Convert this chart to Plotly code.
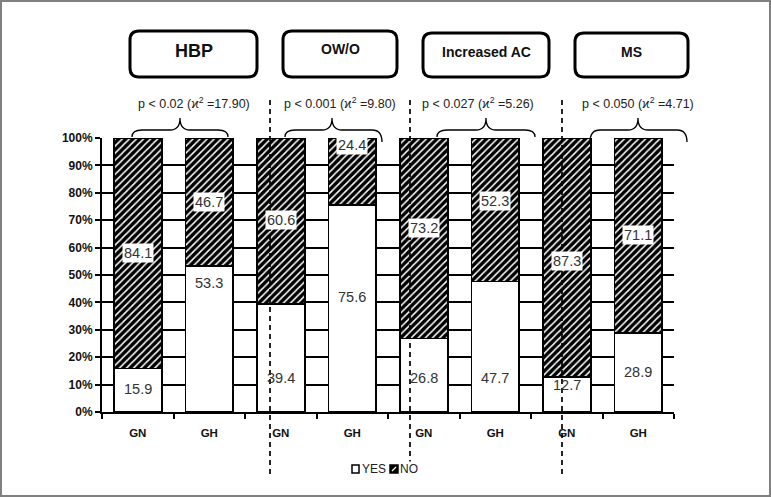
import plotly.graph_objects as go

# ---------------- data ----------------
groups = ["HBP", "OW/O", "Increased AC", "MS"]
bar_labels = ["GN", "GH", "GN", "GH", "GN", "GH", "GN", "GH"]
yes_values = [15.9, 53.3, 39.4, 75.6, 26.8, 47.7, 12.7, 28.9]
no_values = [84.1, 46.7, 60.6, 24.4, 73.2, 52.3, 87.3, 71.1]
p_texts = ["p < 0.02 (ϰ<sup>2</sup> =17.90)", "p < 0.001 (ϰ<sup>2</sup> =9.80)",
           "p < 0.027 (ϰ<sup>2</sup> =5.26)", "p < 0.050 (ϰ<sup>2</sup> =4.71)"]
y_ticks = [0, 10, 20, 30, 40, 50, 60, 70, 80, 90, 100]

# label positions (in % of axis) for value labels
yes_label_pos = [8.4, 47, 12.4, 42, 12.4, 12.4, 10, 14.6]
no_label_pos = [58, 76.6, 70, 97.5, 67, 77, 55, 64.6]

# ---------------- geometry ----------------
W, H = 771, 497
ML, MR, MT, MB = 102, 97, 138, 85
PW, PH = W - ML - MR, H - MT - MB


def px(x):
    return (x - ML) / PW


def py(y):
    return (H - MB - y) / PH


NARROW = "Liberation Sans Narrow, Arial Narrow, Liberation Sans, Arial"
ARIAL = "Liberation Sans, Arial"

xs = list(range(len(bar_labels)))

fig = go.Figure()
fig.add_trace(go.Bar(
    x=xs, y=yes_values, name="YES", width=0.67,
    marker=dict(color="white", line=dict(color="black", width=1.6)),
    hoverinfo="skip",
))
fig.add_trace(go.Bar(
    x=xs, y=no_values, name="NO", width=0.67,
    marker=dict(color="black", line=dict(color="black", width=1.6),
                pattern=dict(shape="/", bgcolor="black", fgcolor="white",
                             size=5, solidity=0.3, fillmode="replace")),
    hoverinfo="skip",
))

annotations = []
shapes = []


def ann(x, y, text, size, family, color="#222222", xanchor="center", **kw):
    d = dict(x=x, y=y, xref="paper", yref="paper", text=text, showarrow=False,
             xanchor=xanchor, yanchor="middle",
             font=dict(family=family, size=size, color=color))
    d.update(kw)
    return d


# value labels
for i in xs:
    annotations.append(dict(x=i, y=yes_label_pos[i], xref="x", yref="y",
                            xanchor="center", yanchor="middle",
                            text=f"{yes_values[i]:.1f}", showarrow=False,
                            font=dict(family=NARROW, size=14.5, color="#333333")))
    annotations.append(dict(x=i, y=no_label_pos[i], xref="x", yref="y",
                            xanchor="center", yanchor="middle",
                            text=f"{no_values[i]:.1f}", showarrow=False,
                            bgcolor="white", borderpad=1,
                            font=dict(family=NARROW, size=14.5, color="#333333")))

# title boxes
boxes = [(130, 31, 257, 77), (283, 31, 397, 77), (423, 33, 549, 77), (575, 33, 688, 77)]
box_text_y = [51, 49, 52, 52]
box_font = [18, 14, 14, 14]


def rrect(x0, y0, x1, y1, r=9):
    pts = [
        ("M", px(x0 + r), py(y0)),
        ("L", px(x1 - r), py(y0)),
        ("Q", px(x1), py(y0), px(x1), py(y0 + r)),
        ("L", px(x1), py(y1 - r)),
        ("Q", px(x1), py(y1), px(x1 - r), py(y1)),
        ("L", px(x0 + r), py(y1)),
        ("Q", px(x0), py(y1), px(x0), py(y1 - r)),
        ("L", px(x0), py(y0 + r)),
        ("Q", px(x0), py(y0), px(x0 + r), py(y0)),
    ]
    s = ""
    for p in pts:
        s += p[0] + " " + " ".join(
            f"{p[k]:.5f},{p[k+1]:.5f}" for k in range(1, len(p), 2)) + " "
    return s + "Z"


for (bx0, by0, bx1, by1), g, ty, fs in zip(boxes, groups, box_text_y, box_font):
    shapes.append(dict(type="path", xref="paper", yref="paper",
                       path=rrect(bx0, by0, bx1, by1),
                       line=dict(color="black", width=3), fillcolor="white"))
    annotations.append(ann(px((bx0 + bx1) / 2), py(ty), f"<b>{g}</b>", fs, ARIAL, "#111111"))

# p-value texts
p_x = [193.5, 339.5, 478, 638]
for t, xx in zip(p_texts, p_x):
    annotations.append(ann(px(xx), py(103), t, 12.5, NARROW))

# braces
braces = [(132, 228, 180, 137, 137), (285, 382, 332, 137, 142),
          (437, 535, 486, 137, 137), (590, 687, 638, 142, 142)]
for x0, x1, xt, ye0, ye1 in braces:
    yl, yt, c = 130, 118, 10
    path = (f"M {px(x0):.5f},{py(ye0):.5f} "
            f"Q {px(x0):.5f},{py(yl):.5f} {px(x0 + c):.5f},{py(yl):.5f} "
            f"L {px(xt - c):.5f},{py(yl):.5f} "
            f"Q {px(xt):.5f},{py(yl):.5f} {px(xt):.5f},{py(yt):.5f} "
            f"Q {px(xt):.5f},{py(yl):.5f} {px(xt + c):.5f},{py(yl):.5f} "
            f"L {px(x1 - c):.5f},{py(yl):.5f} "
            f"Q {px(x1):.5f},{py(yl):.5f} {px(x1):.5f},{py(ye1):.5f}")
    shapes.append(dict(type="path", xref="paper", yref="paper", path=path,
                       line=dict(color="black", width=1.3)))

# dashed separators
for xx in [270, 410, 562]:
    shapes.append(dict(type="line", xref="paper", yref="paper",
                       x0=px(xx), x1=px(xx), y0=py(100), y1=py(478),
                       line=dict(color="black", width=1.7, dash="5px,4px")))

# manual legend
shapes.append(dict(type="rect", xref="paper", yref="paper",
                   x0=px(352), x1=px(359), y0=py(473), y1=py(465),
                   line=dict(color="black", width=1.5), fillcolor="white"))
shapes.append(dict(type="rect", xref="paper", yref="paper",
                   x0=px(390), x1=px(398), y0=py(473), y1=py(465),
                   line=dict(color="black", width=1.5), fillcolor="black"))
shapes.append(dict(type="line", xref="paper", yref="paper",
                   x0=px(392), x1=px(396), y0=py(471), y1=py(467),
                   line=dict(color="white", width=1.2)))
annotations.append(ann(px(360), py(469), "YES", 12, NARROW, xanchor="left"))
annotations.append(ann(px(399), py(469), "NO", 12, NARROW, xanchor="left",
                       bgcolor="white", borderpad=0))

# outer frame
shapes.append(dict(type="rect", xref="paper", yref="paper",
                   x0=px(1), x1=px(770), y0=py(496), y1=py(1),
                   line=dict(color="#808080", width=2)))

fig.update_layout(
    width=W, height=H,
    margin=dict(l=ML, r=MR, t=MT, b=MB),
    barmode="stack",
    showlegend=False,
    plot_bgcolor="white", paper_bgcolor="white",
    annotations=annotations, shapes=shapes,
    xaxis=dict(range=[-0.5, 7.5], tickvals=xs, ticktext=[f"<b>{b}</b>" for b in bar_labels],
               ticks="", showgrid=False, zeroline=False,
               showline=True, linecolor="black", linewidth=2,
               tickfont=dict(family=NARROW, size=11.5, color="#111111"),
               ticklabelstandoff=9,
               minor=dict(tickvals=[v - 0.5 for v in range(len(bar_labels) + 1)],
                          ticks="outside", ticklen=5, tickwidth=1.5, tickcolor="black",
                          showgrid=False)),
    yaxis=dict(range=[0, 100], tickvals=y_ticks, ticktext=[f"<b>{v}%</b>" for v in y_ticks],
               ticks="outside", ticklen=5, tickwidth=1.5, tickcolor="black",
               showgrid=True, gridcolor="black", gridwidth=1.5, zeroline=False,
               showline=True, linecolor="black", linewidth=2,
               tickfont=dict(family=NARROW, size=12, color="#111111")),
)

fig.write_html("out.html", config={"displayModeBar": False},
               post_script="document.body.style.margin='0';")
